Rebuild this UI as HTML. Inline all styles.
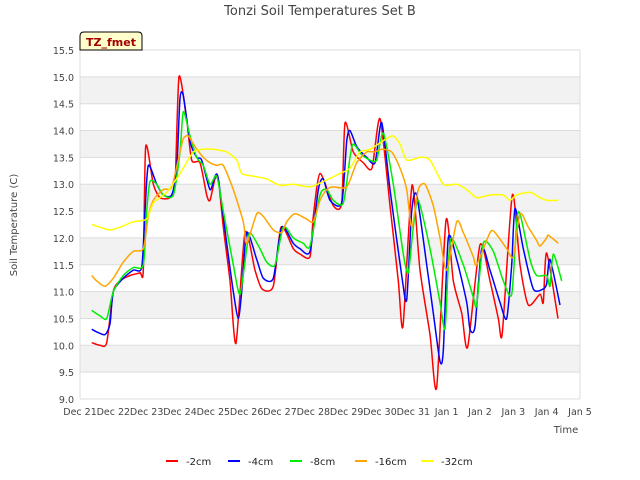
<!DOCTYPE html>
<html><head><meta charset="utf-8"><style>
body{margin:0;background:#fff;font-family:"DejaVu Sans","Liberation Sans",sans-serif}
svg{display:block}
</style></head><body>
<svg id="c" width="640" height="480" xmlns="http://www.w3.org/2000/svg" font-family="DejaVu Sans, Liberation Sans, sans-serif">
<text x="320" y="15" text-anchor="middle" font-size="13" fill="#444">Tonzi Soil Temperatures Set B</text>
<text x="17" y="225" text-anchor="middle" font-size="10" fill="#444" transform="rotate(-90 17 225)">Soil Temperature (C)</text>
<text x="566" y="433" text-anchor="middle" font-size="10" fill="#444">Time</text>
<g id="bands"></g><g id="grid"></g><g id="series"></g><g id="ticks"></g>
<g>
<path d="M80,50 L80,36 Q80,32 84,32 L138,32 Q142,32 142,36 L142,50 Z" fill="#ffffcc" stroke="#000" stroke-width="1"/>
<text x="86" y="46" font-size="11" font-weight="bold" fill="#a00000">TZ_fmet</text></g>
<g id="legend"></g>
</svg>
<script>
const yTicks=[9.0,9.5,10.0,10.5,11.0,11.5,12.0,12.5,13.0,13.5,14.0,14.5,15.0,15.5];
const xTickLabels=["Dec 21","Dec 22","Dec 23","Dec 24","Dec 25","Dec 26","Dec 27","Dec 28","Dec 29","Dec 30","Dec 31","Jan 1","Jan 2","Jan 3","Jan 4","Jan 5"];
const seriesNames=["-2cm","-4cm","-8cm","-16cm","-32cm"];
const seriesColors=["#ff0000","#0000ff","#00ee00","#ffa500","#ffff00"];
const redDays=[0.35,0.6,0.8,1.0,1.2,1.5,1.8,1.9,1.97,2.2,2.4,2.7,2.85,2.97,3.2,3.35,3.6,3.8,3.9,4.05,4.15,4.3,4.5,4.68,4.95,5.25,5.46,5.8,6.03,6.4,6.6,6.9,7.0,7.2,7.6,7.85,7.95,8.2,8.5,8.76,9.0,9.3,9.55,9.69,9.96,10.2,10.5,10.7,10.98,11.2,11.45,11.63,12.0,12.3,12.55,12.67,12.97,13.2,13.45,13.8,13.9,14.0,14.34];
const redVals=[10.05,10.0,10.05,11.0,11.2,11.3,11.35,11.4,13.7,13.0,12.75,12.75,13.0,15.0,14.2,13.45,13.4,12.8,12.7,13.1,13.1,12.2,11.2,10.04,12.1,11.4,11.05,11.1,12.2,11.8,11.7,11.65,12.4,13.2,12.6,12.65,14.14,13.6,13.4,13.3,14.22,12.6,11.2,10.36,12.98,11.4,10.2,9.22,12.33,11.2,10.6,9.97,11.87,11.2,10.5,10.23,12.8,11.5,10.75,10.95,10.8,11.72,10.5];
const blueDays=[0.35,0.5,0.75,0.9,1.0,1.3,1.6,1.85,1.95,2.05,2.3,2.5,2.75,2.9,3.0,3.1,3.3,3.5,3.65,3.9,4.05,4.15,4.4,4.6,4.75,4.85,5.0,5.3,5.5,5.8,6.05,6.4,6.6,6.9,7.15,7.3,7.5,7.85,8.0,8.1,8.3,8.6,8.85,9.05,9.3,9.65,9.8,9.95,10.1,10.4,10.6,10.8,10.9,11.05,11.3,11.6,11.7,11.85,12.05,12.3,12.6,12.8,12.95,13.05,13.3,13.6,13.9,14.0,14.1,14.4];
const blueVals=[10.3,10.25,10.2,10.4,11.0,11.25,11.4,11.45,12.5,13.35,13.0,12.8,12.8,13.3,14.6,14.65,13.8,13.5,13.45,12.9,13.15,13.1,11.9,11.0,10.5,11.0,12.1,11.6,11.25,11.25,12.2,11.9,11.8,11.75,12.9,13.1,12.7,12.65,13.8,14.0,13.7,13.5,13.4,14.15,12.9,11.3,10.85,12.5,12.8,11.5,10.6,9.7,9.9,12.0,11.6,10.8,10.3,10.35,11.8,11.4,10.8,10.5,11.5,12.55,11.8,11.05,11.05,11.15,11.6,10.75];
const greenDays=[0.35,0.6,0.8,1.0,1.3,1.6,1.9,2.0,2.1,2.3,2.5,2.8,3.0,3.1,3.3,3.5,3.7,3.9,4.1,4.3,4.6,4.8,5.0,5.1,5.4,5.6,5.85,6.1,6.4,6.7,6.9,7.2,7.4,7.6,7.9,8.1,8.2,8.45,8.7,8.9,9.1,9.4,9.7,9.85,10.0,10.15,10.5,10.8,10.95,11.05,11.15,11.5,11.8,11.9,12.1,12.4,12.7,12.95,13.1,13.2,13.5,13.7,14.0,14.1,14.2,14.45];
const greenVals=[10.65,10.55,10.5,11.0,11.3,11.45,11.5,12.5,13.05,13.0,12.8,12.8,13.6,14.35,13.9,13.5,13.35,13.0,13.15,12.5,11.5,10.95,11.8,12.1,11.8,11.55,11.5,12.2,12.0,11.9,11.85,12.8,12.9,12.7,12.65,13.5,13.75,13.55,13.45,13.45,13.95,13.0,11.7,11.35,12.2,12.7,11.8,10.8,10.3,11.5,12.0,11.5,10.9,10.75,11.9,11.75,11.2,10.95,12.3,12.45,11.6,11.3,11.3,11.1,11.7,11.2];
const orangeDays=[0.35,0.5,0.75,1.0,1.3,1.6,1.9,2.05,2.2,2.5,2.75,3.0,3.1,3.25,3.45,3.7,3.9,4.1,4.3,4.6,4.9,5.0,5.3,5.5,5.8,6.05,6.2,6.45,6.8,7.0,7.2,7.4,7.6,8.0,8.3,8.6,8.85,9.05,9.35,9.6,9.8,9.95,10.15,10.35,10.6,10.8,11.0,11.3,11.5,11.8,11.9,12.3,12.45,12.8,13.0,13.2,13.45,13.7,13.8,14.0,14.05,14.35];
const orangeVals=[11.3,11.2,11.1,11.25,11.55,11.75,11.8,12.4,12.7,12.9,12.95,13.6,13.85,13.9,13.7,13.5,13.4,13.35,13.35,12.9,12.3,11.9,12.45,12.4,12.15,12.1,12.3,12.45,12.35,12.3,12.7,12.9,12.95,12.95,13.4,13.6,13.6,13.65,13.6,13.3,12.9,12.2,12.9,13.0,12.6,12.0,11.4,12.3,12.1,11.65,11.5,12.1,12.1,11.8,11.65,12.45,12.2,11.95,11.85,12.0,12.05,11.9];
const yellowDays=[0.35,0.6,0.9,1.2,1.6,2.0,2.2,2.6,3.0,3.4,3.7,4.0,4.4,4.7,4.85,5.2,5.6,6.0,6.4,6.9,7.3,7.8,8.1,8.4,8.7,9.2,9.4,9.6,9.8,10.2,10.5,10.9,11.3,11.6,11.9,12.3,12.7,12.9,13.1,13.5,13.8,14.0,14.35];
const yellowVals=[12.25,12.2,12.15,12.2,12.3,12.35,12.65,12.85,13.2,13.6,13.65,13.65,13.6,13.45,13.2,13.15,13.1,12.98,13.0,12.95,13.05,13.2,13.3,13.6,13.65,13.85,13.9,13.75,13.45,13.5,13.45,13.0,13.0,12.9,12.75,12.8,12.8,12.7,12.8,12.85,12.75,12.7,12.7];
const allDays=[redDays,blueDays,greenDays,orangeDays,yellowDays];
const allVals=[redVals,blueVals,greenVals,orangeVals,yellowVals];
const NS="http://www.w3.org/2000/svg";
const X0=80,X1=580,Y0=399,Y1=50,ymin=9,ymax=15.5,dmax=15;
const xs=d=>X0+(X1-X0)*d/dmax;
const ys=v=>Y0-(Y0-Y1)*(v-ymin)/(ymax-ymin);
function mk(t,a,p){const e=document.createElementNS(NS,t);for(const k in a)e.setAttribute(k,a[k]);p.appendChild(e);return e;}
function smooth(P){
  let d='M'+P[0][0].toFixed(1)+','+P[0][1].toFixed(1);
  for(let i=0;i<P.length-1;i++){
    const p0=P[Math.max(0,i-1)],p1=P[i],p2=P[i+1],p3=P[Math.min(P.length-1,i+2)];
    const t=0.12;
    const c1x=p1[0]+(p2[0]-p0[0])*t,c1y=p1[1]+(p2[1]-p0[1])*t;
    const c2x=p2[0]-(p3[0]-p1[0])*t,c2y=p2[1]-(p3[1]-p1[1])*t;
    d+=' C'+c1x.toFixed(1)+','+c1y.toFixed(1)+' '+c2x.toFixed(1)+','+c2y.toFixed(1)+' '+p2[0].toFixed(1)+','+p2[1].toFixed(1);
  }
  return d;
}
const bands=document.getElementById('bands'),grid=document.getElementById('grid'),ticks=document.getElementById('ticks');
mk('rect',{x:X0,y:Y1,width:X1-X0,height:Y0-Y1,fill:'#fff'},bands);
for(let i=0;i<yTicks.length-1;i++){
  if(i%2===1){const r=mk('rect',{x:X0,y:ys(yTicks[i+1]),width:X1-X0,height:ys(yTicks[i])-ys(yTicks[i+1]),fill:'#f2f2f2'},bands);
  
  }
}
yTicks.forEach(v=>{
  const l=mk('line',{x1:X0,x2:X1,y1:ys(v),y2:ys(v),stroke:'#dcdcdc','stroke-width':1},grid);
  
  
  const t=mk('text',{x:X0-6,y:ys(v)+4,'text-anchor':'end','font-size':9.5,fill:'#444'},ticks);
  t.textContent=v.toFixed(1);
  
  
});
mk('line',{x1:X0,x2:X0,y1:Y1,y2:Y0,stroke:'#dcdcdc'},grid);
mk('line',{x1:X1,x2:X1,y1:Y1,y2:Y0,stroke:'#dcdcdc'},grid);
xTickLabels.forEach((s,i)=>{
  const t=mk('text',{x:xs(i),y:Y0+16,'text-anchor':'middle','font-size':9.5,fill:'#444'},ticks);
  t.textContent=s;
  
  
});
const sg=document.getElementById('series');
for(let s=0;s<5;s++){
  const P=allDays[s].map((d,i)=>[xs(d),ys(allVals[s][i])]);
  const p=mk('path',{d:smooth(P),fill:'none',stroke:seriesColors[s],'stroke-width':1.5,'stroke-linejoin':'round'},sg);
  
  
}
const lg=document.getElementById('legend');
const lx=[166,228,290,355,421];
seriesNames.forEach((n,i)=>{
  const g=mk('g',{},lg);
  
  
  mk('line',{x1:lx[i],x2:lx[i]+12,y1:461,y2:461,stroke:seriesColors[i],'stroke-width':2},g);
  const t=mk('text',{x:lx[i]+20,y:465,'font-size':10,fill:'#222'},g);
  t.textContent=n;
});
</script>
</body></html>
